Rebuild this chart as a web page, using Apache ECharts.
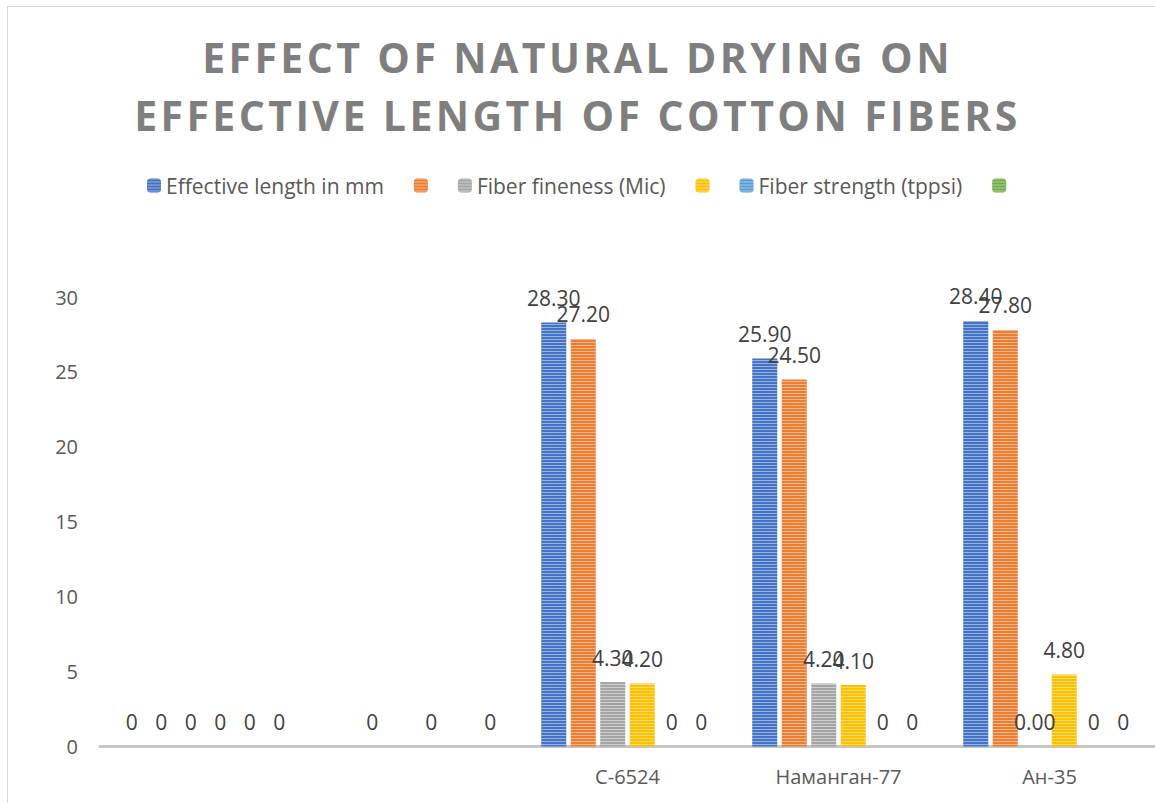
<!DOCTYPE html>
<html><head><meta charset="utf-8">
<script src="https://cdn.jsdelivr.net/npm/echarts@6/dist/echarts.min.js"></script>
<style>html,body{margin:0;padding:0;background:#fff}#c{width:1155px;height:803px}</style>
</head><body><div id="c"></div>
<script>
const titleText = 'EFFECT OF NATURAL DRYING ON\nEFFECTIVE LENGTH OF COTTON FIBERS';
const categories = ['', ' ', 'С-6524', 'Наманган-77', 'Ан-35'];
const seriesNames = ['Effective length in mm', ' ', 'Fiber fineness (Mic)', '  ', 'Fiber strength (tppsi)', '   '];
const effectiveLength = [0, null, 28.3, 25.9, 28.4];
const series2 = [0, 0, 27.2, 24.5, 27.8];
const fiberFineness = [0, null, 4.3, 4.2, 0];
const series4 = [0, 0, 4.2, 4.1, 4.8];
const fiberStrength = [0, null, 0, 0, 0];
const series6 = [0, 0, 0, 0, 0];
const yTicks = [0, 5, 10, 15, 20, 25, 30];

const values = [effectiveLength, series2, fiberFineness, series4, fiberStrength, series6];
const colors = ['#4472C4', '#ED7D31', '#A5A5A5', '#FFC000', '#5B9BD5', '#70AD47'];
const FONT = 'Open Sans';

const decal = {
  symbol: 'rect', symbolSize: 1, color: 'rgba(255,255,255,0.45)',
  dashArrayX: [1, 0], dashArrayY: [1, 2], rotation: 0
};

const chart = echarts.init(document.getElementById('c'), null, {renderer: 'svg'});
chart.setOption({
  animation: false,
  color: colors,
  title: {
    text: titleText, left: 'center', top: 23,
    textStyle: {fontFamily: FONT, fontSize: 41, fontWeight: 'bold', color: '#7f7f7f', lineHeight: 58}
  },
  legend: {
    left: 142, top: 170, itemWidth: 14, itemHeight: 14, itemGap: 30,
    data: seriesNames,
    formatter: n => n.trim(),
    textStyle: {fontFamily: FONT, fontSize: 21, color: '#595959'}
  },
  grid: {left: 100, top: 297, width: 1057, height: 449.5, containLabel: false},
  xAxis: {
    type: 'category', data: categories,
    axisTick: {show: false},
    axisLine: {lineStyle: {color: '#c6c6c6', width: 3}},
    axisLabel: {fontFamily: FONT, fontSize: 20, color: '#595959', margin: 20}
  },
  yAxis: {
    type: 'value', min: yTicks[0], max: yTicks[yTicks.length - 1], interval: 5,
    splitLine: {show: false}, axisLine: {show: false}, axisTick: {show: false},
    axisLabel: {fontFamily: FONT, fontSize: 20, color: '#595959', margin: 22}
  },
  graphic: [{type: 'rect', shape: {x: 7.5, y: 6.5, width: 1300, height: 1000}, style: {fill: 'none', stroke: '#d9d9d9', lineWidth: 1}, silent: true}],
  series: values.map((v, i) => ({
    type: 'bar', name: seriesNames[i], data: v,
    barWidth: 25, barGap: '18%',
    itemStyle: {color: colors[i], decal: decal},
    label: {
      show: true, position: 'top', distance: 14,
      fontFamily: FONT, fontSize: 21, color: '#404040',
      formatter: p => (p.seriesIndex < 4 && p.dataIndex >= 2) ? Number(p.value).toFixed(2) : String(p.value)
    }
  }))
});
function spacing() {
  document.querySelectorAll('#c svg text').forEach(t => {
    if (/EFFECT/.test(t.textContent)) t.style.letterSpacing = '3.4px';
  });
}
chart.on('finished', spacing);
spacing();
</script></body></html>
